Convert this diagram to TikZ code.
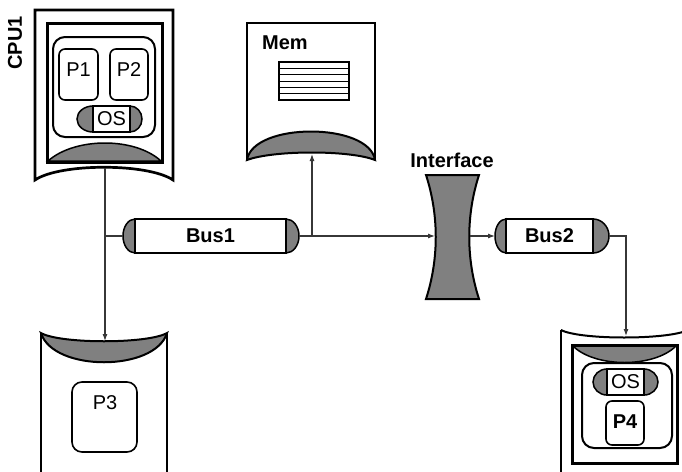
\documentclass[tikz,border=0pt]{standalone}
\usepackage{fontspec}
\setmainfont{Liberation Sans}
\usetikzlibrary{arrows.meta,positioning}
\definecolor{capgray}{RGB}{128,128,128}
\definecolor{wiregray}{RGB}{55,55,55}

\begin{document}
\begin{tikzpicture}[
    x=1pt, y=-1pt,
    blockframe/.style={draw=black, line width=2.7pt},
    graycap/.style={draw=black, fill=capgray, line width=1.5pt},
    procbox/.style={draw=black, line width=1.6pt, rounded corners=6pt},
    boldlabel/.style={font=\fontsize{20}{24}\selectfont\bfseries, inner sep=0pt},
    plainlabel/.style={font=\fontsize{20}{24}\selectfont, inner sep=0pt},
    wire/.style={draw=wiregray, line width=1.1pt},
    wirearrow/.style={wire, -{Latex[length=7pt,width=5pt]}}
]
    \useasboundingbox (0,0) rectangle (682,471);

    % --- CPU1 BLOCK ---
    \node[boldlabel, rotate=90] (cpu1) at (15,43) {CPU1};
    \draw[blockframe] (35,10) -- (35,180) .. controls (60,163) and (148,163) .. (173,180) -- (173,10) -- cycle;
    \draw[graycap] (48,161) .. controls (75,137) and (135,137) .. (161,161) -- cycle;
    \draw[blockframe, line width=3pt] (47,23) rectangle (162,162);
    \draw[procbox, line width=2pt, rounded corners=12pt] (53,37) rectangle (155,137);
    \draw[procbox] (59,49) rectangle (98,100);
    \node[plainlabel] (p1) at (78.5,70) {P1};
    \draw[procbox] (110,49) rectangle (148,100);
    \node[plainlabel] (p2) at (129,70) {P2};
    \draw[graycap] (93,106) arc[start angle=270, end angle=90, x radius=16, y radius=13] -- cycle;
    \draw[graycap] (130,106) arc[start angle=-90, end angle=90, x radius=12, y radius=13] -- cycle;
    \node[plainlabel, draw, line width=1.2pt, minimum width=37pt, minimum height=26pt] (os1) at (111.5,119) {OS};
    \coordinate (cpu1out) at (105,168);

    % --- MEMORY BLOCK ---
    \draw[blockframe] (247,160) -- (247,23) -- (375,23) -- (375,160);
    \draw[graycap, line width=2pt] (247,160) .. controls (253,122) and (369,122) .. (375,160) .. controls (350,150) and (274,150) .. (247,160) -- cycle;
    \node[boldlabel, anchor=west] (mem) at (262,43) {Mem};
    \draw[line width=1.5pt] (279,62) rectangle (349,100);
    \draw[line width=0.8pt] (279,68.3) -- (349,68.3);
    \draw[line width=0.8pt] (279,74.7) -- (349,74.7);
    \draw[line width=0.8pt] (279,81) -- (349,81);
    \draw[line width=0.8pt] (279,87.3) -- (349,87.3);
    \draw[line width=0.8pt] (279,93.7) -- (349,93.7);
    \coordinate (memin) at (312,154);

    % --- BUS1 ---
    \draw[graycap] (135,219) arc[start angle=270, end angle=90, x radius=12, y radius=17] -- cycle;
    \draw[graycap] (286,219) arc[start angle=-90, end angle=90, x radius=13, y radius=17] -- cycle;
    \node[boldlabel, draw, fill=white, line width=1.6pt, minimum width=151pt, minimum height=34pt] (bus1) at (210.5,236) {Bus1};
    \coordinate (bus1l) at (123,236);
    \coordinate (bus1r) at (299,236);

    % --- INTERFACE ---
    \draw[graycap, line width=2pt] (426,175) -- (479,175) .. controls (466,215) and (466,259) .. (479,299) -- (426,299) .. controls (439,259) and (439,215) .. (426,175) -- cycle;
    \node[boldlabel] (iface) at (452,160) {Interface};
    \coordinate (ifin) at (435,236);
    \coordinate (ifout) at (470,236);

    % --- BUS2 ---
    \draw[graycap] (506,219) arc[start angle=270, end angle=90, x radius=11, y radius=17] -- cycle;
    \draw[graycap] (593,219) arc[start angle=-90, end angle=90, x radius=16, y radius=17] -- cycle;
    \node[boldlabel, draw, fill=white, line width=1.6pt, minimum width=87pt, minimum height=34pt] (bus2) at (549.5,236) {Bus2};
    \coordinate (bus2l) at (495,236);
    \coordinate (bus2r) at (609,236);

    % --- P3 BLOCK ---
    \draw[blockframe] (41,333) -- (41,480);
    \draw[blockframe] (167,333) -- (167,480);
    \draw[graycap, line width=2pt] (41,333) .. controls (60,344) and (148,344) .. (167,333) .. controls (155,372) and (53,372) .. (41,333) -- cycle;
    \draw[procbox, rounded corners=10pt] (72,382) rectangle (137,452);
    \node[plainlabel] (p3) at (105,403) {P3};
    \coordinate (p3in) at (105,341);

    % --- P4 BLOCK ---
    \draw[blockframe] (561,330) -- (561,480);
    \draw[blockframe] (688,330) -- (688,480);
    \draw[line width=2pt] (561,330) .. controls (580,340) and (668,340) .. (688,330);
    \draw[graycap] (573,346) .. controls (595,368) and (654,368) .. (676,346) -- cycle;
    \draw[blockframe, line width=3pt] (572,345) rectangle (677,463);
    \draw[procbox, line width=2pt, rounded corners=12pt] (582,363) rectangle (672,448);
    \draw[graycap] (607,369) arc[start angle=270, end angle=90, x radius=14, y radius=13] -- cycle;
    \draw[graycap] (644,369) arc[start angle=-90, end angle=90, x radius=14, y radius=13] -- cycle;
    \node[plainlabel, draw, line width=1.2pt, minimum width=37pt, minimum height=26pt] (os4) at (625.5,382) {OS};
    \draw[procbox] (606,401) rectangle (644,445);
    \node[boldlabel] (p4) at (625,422) {P4};
    \coordinate (p4in) at (626,336);

    % Connections
    \draw[wirearrow] (cpu1out) -- (p3in);
    \draw[wire] (cpu1out |- bus1l) -- (bus1l);
    \draw[wirearrow] (bus1r) -- (ifin);
    \draw[wirearrow] (memin |- bus1r) -- (memin);
    \draw[wirearrow] (ifout) -- (bus2l);
    \draw[wirearrow] (bus2r) -| (p4in);
\end{tikzpicture}
\end{document}
